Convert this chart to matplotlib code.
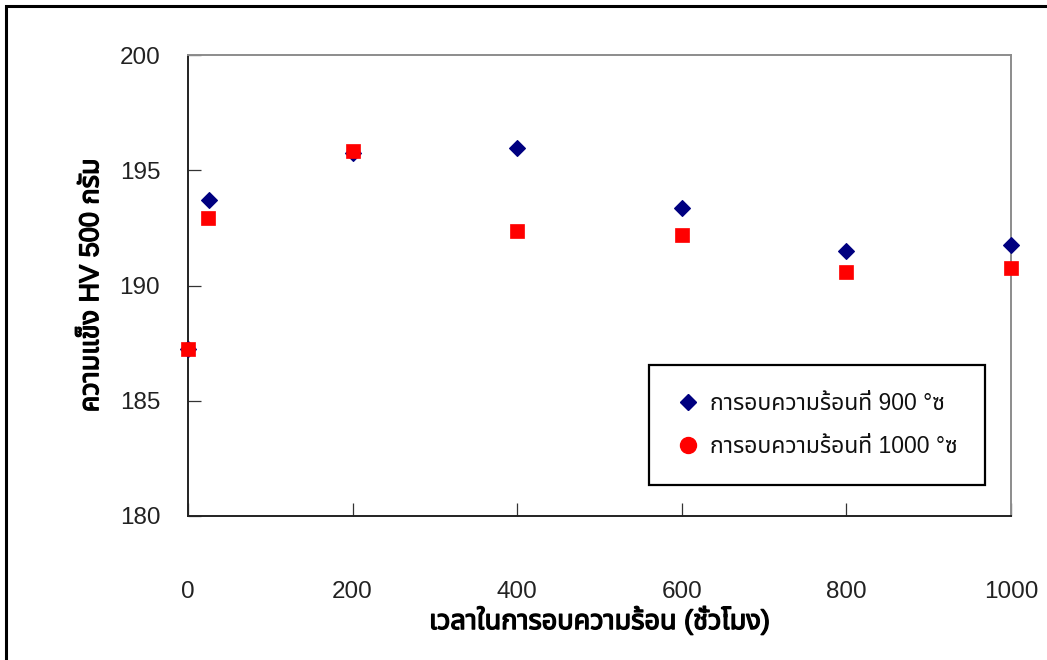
import matplotlib
matplotlib.use("Agg")
import matplotlib.pyplot as plt
import matplotlib.patheffects as pe
from matplotlib.lines import Line2D
from matplotlib.patches import Rectangle
from matplotlib import font_manager

# Annealing time (hours) and Vickers hardness HV 500 g
hours_900 = [0, 25, 200, 400, 600, 800, 1000]
hv_900 = [187.25, 193.73, 195.75, 195.97, 193.35, 191.5, 191.74]
hours_1000 = [0, 24, 200, 400, 600, 800, 1000]
hv_1000 = [187.25, 192.92, 195.83, 192.35, 192.18, 190.6, 190.75]

x_ticks = [0, 200, 400, 600, 800, 1000]
y_ticks = [180, 185, 190, 195, 200]

label_900 = "การอบความร้อนที่ 900 °ซ"
label_1000 = "การอบความร้อนที่ 1000 °ซ"
x_title = "เวลาในการอบความร้อน (ชั่วโมง)"
y_title = "ความแข็ง HV 500 กรัม"

# Latin glyphs from an Arial-like face, Thai glyphs from a Thai-capable family
available = {f.name for f in font_manager.fontManager.ttflist}
thai_candidates = ["Noto Sans Thai", "Noto Sans Thai UI", "Noto Serif Thai", "Tahoma",
                   "Loma", "Garuda", "Norasi", "Waree", "Sawasdee", "Kinnari",
                   "TH Sarabun New", "Leelawadee UI", "Microsoft Sans Serif"]
families = ["Liberation Sans"] + [f for f in thai_candidates if f in available]
families += ["DejaVu Sans"]
plt.rcParams["font.family"] = families

# Uniform heavy look for mixed Thai/Latin titles
heavy = [pe.withStroke(linewidth=1.0, foreground="black")]

fig = plt.figure(figsize=(10.47, 6.6), dpi=100)
fig.patch.set_facecolor("white")

# Outer frame around the figure (open on right and bottom)
fig.patches.append(Rectangle((5.5 / 1047, -0.1), 1.2, 1.1 - 6.5 / 660,
                             transform=fig.transFigure, fill=False,
                             edgecolor="black", linewidth=2.2, zorder=0))

ax = fig.add_axes([188 / 1047, 1 - 516 / 660, (1011 - 188) / 1047, (516 - 55) / 660])

ax.plot(hours_900, hv_900, linestyle="none", marker="D", markersize=8.6,
        markerfacecolor="#000080", markeredgecolor="#000080", markeredgewidth=0.8,
        zorder=3, clip_on=False)
ax.plot(hours_1000, hv_1000, linestyle="none", marker="s", markersize=10.2,
        markerfacecolor="#ff0000", markeredgecolor="#ff0000", markeredgewidth=0.5,
        zorder=4, clip_on=False)

ax.set_xlim(0, 1000)
ax.set_ylim(180, 200)
ax.set_xticks(x_ticks)
ax.set_yticks(y_ticks)
ax.tick_params(direction="in", length=9.4, width=0.9, color="#333333",
               labelsize=17.5, labelcolor="#222222")
ax.tick_params(axis="y", pad=20)
ax.tick_params(axis="x", pad=47)

for side in ("top", "right"):
    ax.spines[side].set_color("#8c8c8c")
    ax.spines[side].set_linewidth(1.4)
for side in ("left", "bottom"):
    ax.spines[side].set_color("#222222")
    ax.spines[side].set_linewidth(1.4)

ax.set_xlabel(x_title, fontsize=19.5, color="black", labelpad=2,
              path_effects=heavy)
ax.set_ylabel(y_title, fontsize=19.5, color="black", labelpad=11,
              path_effects=heavy)

handles = [
    Line2D([], [], linestyle="none", marker="D", markersize=8.5,
           markerfacecolor="#000080", markeredgecolor="#000080"),
    Line2D([], [], linestyle="none", marker="o", markersize=11.5,
           markerfacecolor="#ff0000", markeredgecolor="#ff0000"),
]
leg = ax.legend(handles, [label_900, label_1000], loc="upper left",
                bbox_to_anchor=((649 - 188) / 823, (516 - 365) / 461),
                borderaxespad=0, fancybox=False, frameon=True, fontsize=16.5,
                borderpad=1.2, labelspacing=0.85, handlelength=1.0,
                handletextpad=0.45, framealpha=1)
leg.get_frame().set_edgecolor("black")
leg.get_frame().set_linewidth(1.6)
for txt in leg.get_texts():
    txt.set_color("#111111")

fig.savefig("out.png", dpi=100, facecolor="white")
